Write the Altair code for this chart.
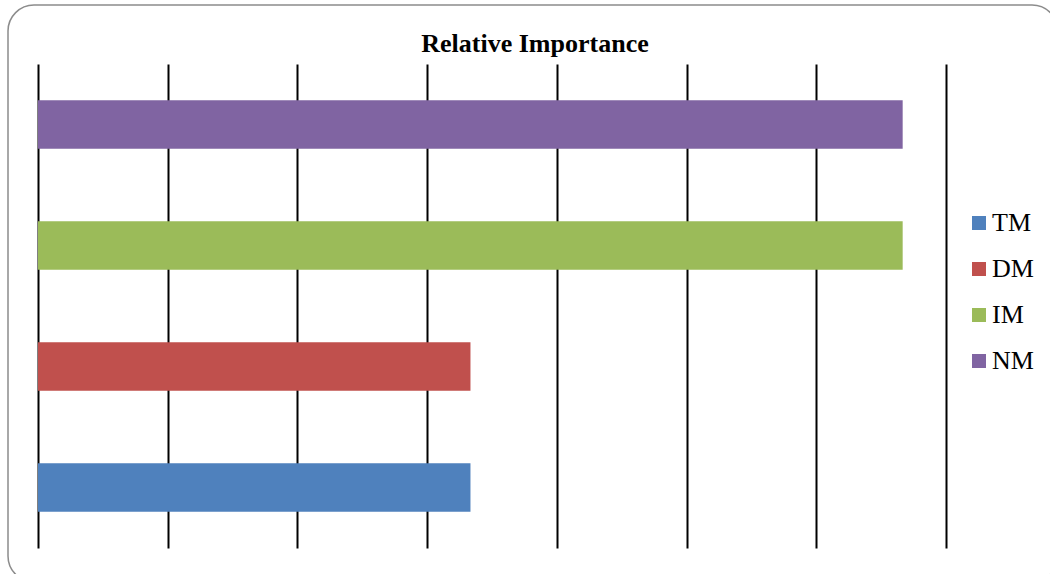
import altair as alt
import pandas as pd

categories = ["TM", "DM", "IM", "NM"]
values = [0.1667, 0.1667, 0.3333, 0.3333]
colors = ["#4F81BD", "#C0504D", "#9BBB59", "#8064A2"]
ticks = [0, 0.05, 0.10, 0.15, 0.20, 0.25, 0.30, 0.35]
title_text = "Relative Importance"

df = pd.DataFrame({"cat": categories, "val": values})

W, H = 908, 484
PL, PT = 38, 64
SERIF = "Liberation Serif"

frame = alt.Chart(pd.DataFrame({"a": [0]})).mark_rect(
    fill="transparent", stroke="#8C8C8C", strokeWidth=1.5, cornerRadius=26
).encode(
    x=alt.value(8 - PL), x2=alt.value(1058 - PL),
    y=alt.value(5 - PT), y2=alt.value(582 - PT),
)

title = alt.Chart(pd.DataFrame({"t": [title_text]})).mark_text(
    font=SERIF, fontSize=26, fontWeight="bold",
    color="black", align="center", baseline="alphabetic"
).encode(
    x=alt.value(535 - PL), y=alt.value(52 - PT), text="t:N"
)

bars = alt.Chart(df).mark_bar().encode(
    x=alt.X("val:Q", scale=alt.Scale(domain=[0, 0.35], nice=False, zero=True),
            axis=alt.Axis(values=ticks, labels=False, ticks=False, domain=False,
                          grid=True, gridColor="black", gridWidth=2, gridOpacity=1,
                          title=None)),
    y=alt.Y("cat:N", sort=["NM", "IM", "DM", "TM"],
            scale=alt.Scale(paddingInner=0.6, paddingOuter=0.3), axis=None),
    color=alt.Color("cat:N", scale=alt.Scale(domain=categories, range=colors),
                    legend=alt.Legend(title=None, orient="none", legendX=966 - PL,
                                      legendY=210 - PT, symbolType="square",
                                      symbolSize=196, symbolStrokeWidth=0,
                                      labelFont=SERIF, labelFontSize=26,
                                      labelColor="black", labelOffset=0,
                                      rowPadding=20, padding=0)),
)

chart = alt.layer(frame, bars, title).properties(
    width=W, height=H, background="white",
    autosize=alt.AutoSizeParams(type="none"),
    padding={"left": PL, "top": PT, "right": 1050 - PL - W, "bottom": 574 - PT - H},
).configure_view(stroke=None)

chart.save("out.html", embed_options={"renderer": "svg", "actions": False})
